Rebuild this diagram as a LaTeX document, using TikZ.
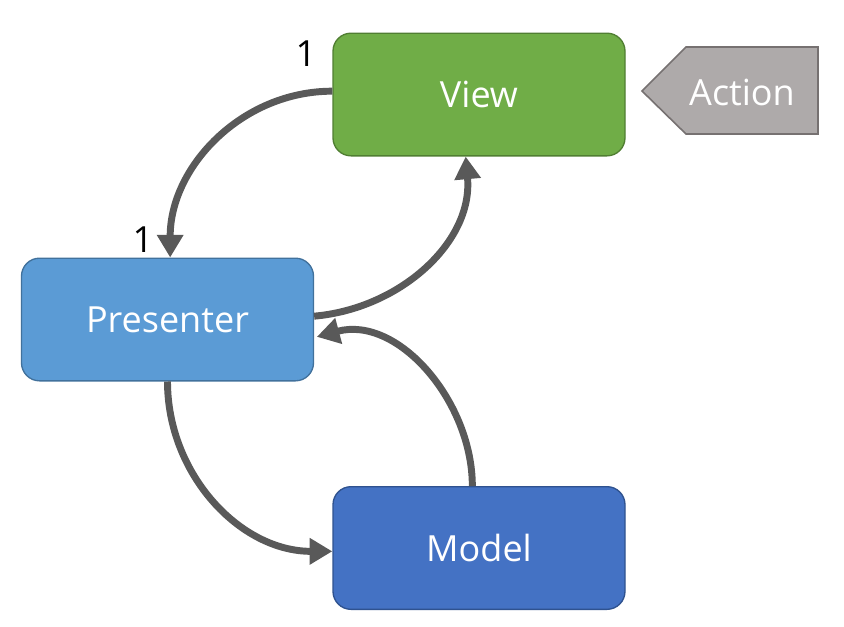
\documentclass[tikz,border=0pt]{standalone}
\usepackage{fontspec}
\setmainfont{Open Sans}
\usetikzlibrary{arrows.meta}
\definecolor{viewfill}{HTML}{70AD47}
\definecolor{viewline}{HTML}{507E32}
\definecolor{presfill}{HTML}{5B9BD5}
\definecolor{presline}{HTML}{41719C}
\definecolor{modfill}{HTML}{4472C4}
\definecolor{modline}{HTML}{2F528F}
\definecolor{actfill}{HTML}{AEAAAA}
\definecolor{actline}{HTML}{767171}
\definecolor{arrowgray}{HTML}{595959}
\tikzset{
  box/.style={rounded corners=13.5pt, line width=1pt, minimum width=219pt, minimum height=92pt,
    text=white, font=\fontsize{27}{31}\selectfont, inner sep=0pt},
  flow/.style={draw=arrowgray, line width=5.2pt,
    -{Triangle[length=17pt,width=19pt]}},
  mult/.style={font=\fontsize{27}{31}\selectfont, text=black, inner sep=0pt}
}
\begin{document}
\begin{tikzpicture}[x=0.75pt,y=-0.75pt]
\useasboundingbox (0,0) rectangle (844,626);
\node[box, fill=viewfill, draw=viewline] (view) at (479,94.5) {View};
\node[box, fill=presfill, draw=presline] (pres) at (167.5,319.5) {Presenter};
\node[box, fill=modfill, draw=modline] (model) at (479,548) {Model};
\draw[fill=actfill, draw=actline, line width=1.2pt] (642,91) -- (686,47) -- (818,47) -- (818,134) -- (686,134) -- cycle;
\node[text=white, font=\fontsize{27}{31}\selectfont, inner sep=0pt] (action) at (742,92) {Action};
\node[mult] (m1) at (306,54) {1};
\node[mult] (m2) at (143,240) {1};
\draw[flow] ([yshift=2.5pt]view.west) to[out=180,in=90] ([xshift=2pt]pres.north);
\draw[flow] ([yshift=2.5pt]pres.east) to[out=5,in=-85] ([xshift=-10pt]view.south);
\draw[flow] ([xshift=-5pt]model.north) to[out=90,in=15] ([xshift=2pt,yshift=-13pt]pres.east);
\draw[flow] (pres.south) to[out=-90,in=180] ([yshift=-2.5pt]model.west);
\end{tikzpicture}
\end{document}
